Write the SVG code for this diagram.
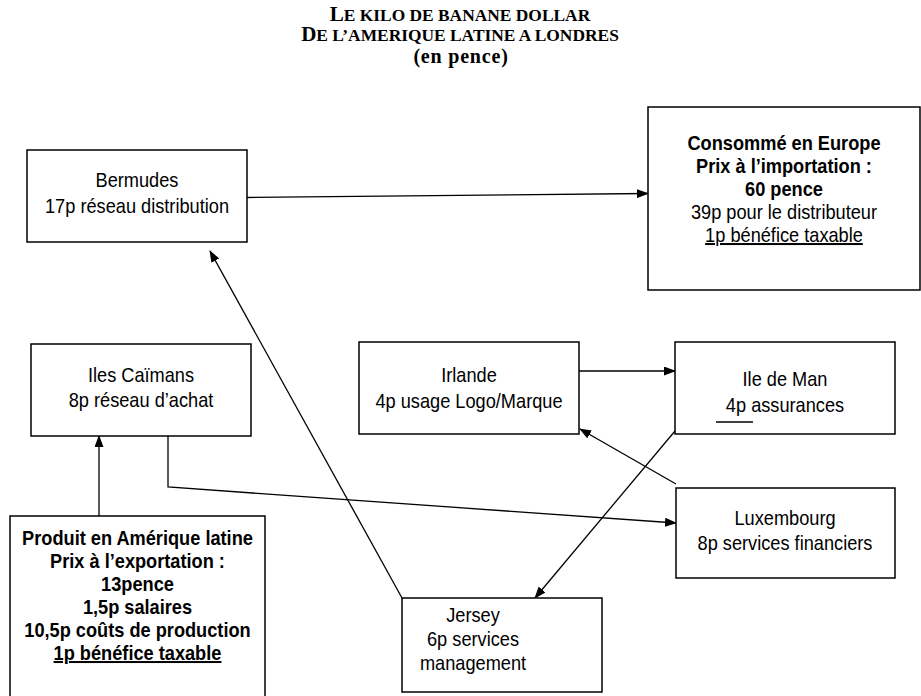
<svg xmlns="http://www.w3.org/2000/svg" width="921" height="696" viewBox="0 0 921 696">
<style>
.box{fill:#fff;stroke:#000;stroke-width:1.5}
.t{font-family:"Liberation Sans",Arial,sans-serif;font-size:20px;text-anchor:middle;fill:#000}
.b{font-weight:bold}
.u{text-decoration:underline}
.ttl{font-family:"Liberation Serif","Times New Roman",serif;font-weight:bold;text-anchor:middle;fill:#000}
.big{font-size:21px}
.sm{font-size:17.4px}
.c{fill:none;stroke:#000;stroke-width:1.3}
.a{marker-end:url(#arr)}
</style>
<defs>
<marker id="arr" viewBox="0 0 12 9" refX="11" refY="4.5" markerWidth="12" markerHeight="9" markerUnits="userSpaceOnUse" orient="auto">
<path d="M0,0 L12,4.5 L0,9 z" fill="#000"/>
</marker>
</defs>
<rect width="921" height="696" fill="#fff"/>
<g id="title">
<text class="ttl" x="460" y="21"><tspan class="big">L</tspan><tspan class="sm">E KILO DE BANANE DOLLAR</tspan></text>
<text class="ttl" x="460" y="41"><tspan class="big">D</tspan><tspan class="sm">E L’AMERIQUE LATINE A LONDRES</tspan></text>
<text class="ttl" x="461" y="63" font-size="20" letter-spacing="0.8">(en pence)</text>
</g>
<g id="connectors">
<line class="c a" x1="247" y1="197.5" x2="648" y2="193.5"/>
<line class="c a" x1="99" y1="516" x2="99" y2="436"/>
<polyline class="c a" points="168,436 168,487 676,523"/>
<line class="c a" x1="402" y1="598" x2="210" y2="251"/>
<line class="c a" x1="579" y1="371" x2="675" y2="371"/>
<line class="c a" x1="676" y1="484" x2="580" y2="429"/>
<line class="c a" x1="675" y1="431" x2="535" y2="598"/>
</g>
<g id="bermudes">
<rect class="box" x="27" y="150" width="220" height="92"/>
<g transform="translate(137,0) scale(0.91,1)">
<text class="t" x="0" y="187">Bermudes</text>
<text class="t" x="0" y="213">17p réseau distribution</text>
</g>
</g>
<g id="europe">
<rect class="box" x="648" y="107" width="272" height="183"/>
<g transform="translate(784,0) scale(0.91,1)">
<text class="t b" x="0" y="150">Consommé en Europe</text>
<text class="t b" x="0" y="173">Prix à l’importation :</text>
<text class="t b" x="0" y="196">60 pence</text>
<text class="t" x="0" y="219">39p pour le distributeur</text>
<text class="t u" x="0" y="242">1p bénéfice taxable</text>
</g>
</g>
<g id="caimans">
<rect class="box" x="31" y="344" width="220" height="92"/>
<g transform="translate(141,0) scale(0.91,1)">
<text class="t" x="0" y="382">Iles Caïmans</text>
<text class="t" x="0" y="407">8p réseau d’achat</text>
</g>
</g>
<g id="irlande">
<rect class="box" x="359" y="342" width="220" height="92"/>
<g transform="translate(469,0) scale(0.91,1)">
<text class="t" x="0" y="382">Irlande</text>
<text class="t" x="0" y="408">4p usage Logo/Marque</text>
</g>
</g>
<g id="iledeman">
<rect class="box" x="675" y="342" width="220" height="92"/>
<g transform="translate(785,0) scale(0.91,1)">
<text class="t" x="0" y="386">Ile de Man</text>
<text class="t" x="0" y="412">4p assurances</text>
</g>
<line x1="716" y1="422" x2="753" y2="422" stroke="#000" stroke-width="1.3"/>
</g>
<g id="luxembourg">
<rect class="box" x="676" y="488" width="219" height="90"/>
<g transform="translate(785,0) scale(0.91,1)">
<text class="t" x="0" y="525">Luxembourg</text>
<text class="t" x="0" y="550">8p services financiers</text>
</g>
</g>
<g id="produit">
<rect class="box" x="10" y="516" width="255" height="200"/>
<g transform="translate(137.5,0) scale(0.91,1)">
<text class="t b" x="0" y="545">Produit en Amérique latine</text>
<text class="t b" x="0" y="568">Prix à l’exportation :</text>
<text class="t b" x="0" y="591">13pence</text>
<text class="t b" x="0" y="614">1,5p salaires</text>
<text class="t b" x="0" y="637">10,5p coûts de production</text>
<text class="t b u" x="0" y="660">1p bénéfice taxable</text>
</g>
</g>
<g id="jersey">
<rect class="box" x="402" y="598" width="200" height="94"/>
<g transform="translate(473,0) scale(0.91,1)">
<text class="t" x="0" y="622">Jersey</text>
<text class="t" x="0" y="646">6p services</text>
<text class="t" x="0" y="670">management</text>
</g>
</g>
</svg>
